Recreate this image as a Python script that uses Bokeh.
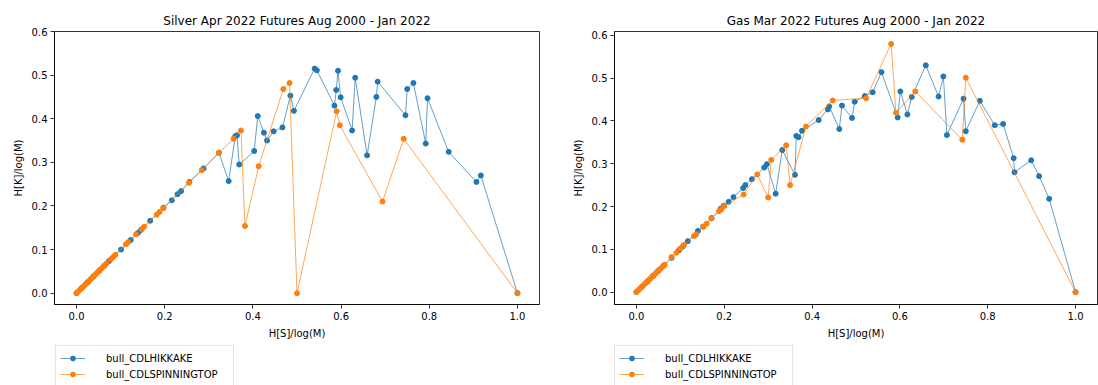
from bokeh.plotting import figure
from bokeh.layouts import row, column
from bokeh.models import Legend, LegendItem, FixedTicker, Range1d, NumeralTickFormatter
from bokeh.embed import file_html
from bokeh.resources import INLINE

FONT = "DejaVu Sans"
BLUE = "#1f77b4"
ORANGE = "#ff7f0e"

titles = ["Silver Apr 2022 Futures Aug 2000 - Jan 2022", "Gas Mar 2022 Futures Aug 2000 - Jan 2022"]
series_names = ["bull_CDLHIKKAKE", "bull_CDLSPINNINGTOP"]
x_ticks = [0.0, 0.2, 0.4, 0.6, 0.8, 1.0]
y_ticks = [0.0, 0.1, 0.2, 0.3, 0.4, 0.5, 0.6]

# Silver - bull_CDLHIKKAKE
silver_hik_x = [0.000, 0.012, 0.025, 0.038, 0.052, 0.063, 0.074, 0.101, 0.123, 0.139, 0.146, 0.167,
                0.197, 0.216, 0.229, 0.237, 0.256, 0.288, 0.323, 0.345, 0.360, 0.364, 0.369, 0.403,
                0.411, 0.425, 0.432, 0.447, 0.467, 0.485, 0.493, 0.540, 0.545, 0.585, 0.589, 0.593,
                0.599, 0.625, 0.632, 0.659, 0.680, 0.683, 0.746, 0.750, 0.764, 0.792, 0.796, 0.844,
                0.907, 0.917, 1.000]
silver_hik_y = [0.000, 0.012, 0.025, 0.038, 0.052, 0.063, 0.074, 0.100, 0.122, 0.138, 0.145, 0.166,
                0.196, 0.213, 0.227, 0.234, 0.255, 0.286, 0.322, 0.257, 0.360, 0.362, 0.295, 0.326,
                0.406, 0.368, 0.350, 0.371, 0.380, 0.453, 0.418, 0.515, 0.511, 0.430, 0.466, 0.510,
                0.449, 0.373, 0.494, 0.316, 0.450, 0.485, 0.408, 0.468, 0.482, 0.343, 0.447, 0.324,
                0.255, 0.270, 0.000]

# Silver - bull_CDLSPINNINGTOP
silver_spin_x = [0.000, 0.004, 0.008, 0.012, 0.016, 0.020, 0.024, 0.028, 0.032, 0.036, 0.040, 0.044,
                 0.048, 0.052, 0.056, 0.060, 0.064, 0.068, 0.078, 0.083, 0.088, 0.112, 0.117, 0.135,
                 0.148, 0.153, 0.182, 0.188, 0.197, 0.255, 0.284, 0.323, 0.356, 0.373, 0.382, 0.413,
                 0.469, 0.483, 0.500, 0.590, 0.597, 0.694, 0.742, 1.000]
silver_spin_y = [0.000, 0.004, 0.008, 0.012, 0.016, 0.020, 0.024, 0.028, 0.032, 0.036, 0.040, 0.044,
                 0.048, 0.052, 0.056, 0.060, 0.064, 0.068, 0.078, 0.083, 0.088, 0.112, 0.117, 0.135,
                 0.147, 0.152, 0.180, 0.186, 0.195, 0.253, 0.282, 0.322, 0.354, 0.373, 0.154, 0.291,
                 0.468, 0.482, 0.000, 0.417, 0.385, 0.210, 0.354, 0.000]

# Gas - bull_CDLHIKKAKE
gas_hik_x = [0.000, 0.012, 0.025, 0.038, 0.050, 0.062, 0.080, 0.097, 0.106, 0.117, 0.140, 0.152,
             0.171, 0.192, 0.199, 0.210, 0.221, 0.243, 0.248, 0.263, 0.291, 0.297, 0.317, 0.332,
             0.361, 0.364, 0.369, 0.377, 0.415, 0.436, 0.439, 0.462, 0.468, 0.491, 0.497, 0.520,
             0.538, 0.558, 0.595, 0.601, 0.617, 0.627, 0.659, 0.688, 0.699, 0.707, 0.745, 0.750,
             0.782, 0.816, 0.835, 0.859, 0.861, 0.899, 0.917, 0.940, 1.000]
gas_hik_y = [0.000, 0.012, 0.025, 0.038, 0.050, 0.062, 0.080, 0.098, 0.107, 0.119, 0.143, 0.153,
             0.173, 0.195, 0.202, 0.211, 0.222, 0.243, 0.250, 0.264, 0.291, 0.299, 0.230, 0.332,
             0.274, 0.365, 0.362, 0.377, 0.402, 0.427, 0.434, 0.381, 0.436, 0.407, 0.445, 0.458,
             0.467, 0.514, 0.408, 0.469, 0.415, 0.456, 0.530, 0.457, 0.504, 0.367, 0.452, 0.376,
             0.447, 0.390, 0.393, 0.313, 0.280, 0.308, 0.271, 0.218, 0.000]

# Gas - bull_CDLSPINNINGTOP
gas_spin_x = [0.000, 0.004, 0.008, 0.012, 0.016, 0.020, 0.024, 0.028, 0.032, 0.036, 0.040, 0.044,
              0.048, 0.052, 0.056, 0.060, 0.064, 0.080, 0.091, 0.100, 0.108, 0.131, 0.136, 0.153,
              0.160, 0.171, 0.188, 0.193, 0.200, 0.244, 0.275, 0.300, 0.307, 0.341, 0.350, 0.386,
              0.447, 0.523, 0.580, 0.591, 0.635, 0.742, 0.750, 1.000]
gas_spin_y = [0.000, 0.004, 0.008, 0.012, 0.016, 0.020, 0.024, 0.028, 0.032, 0.036, 0.040, 0.044,
              0.048, 0.052, 0.056, 0.060, 0.064, 0.082, 0.092, 0.102, 0.110, 0.131, 0.135, 0.153,
              0.160, 0.172, 0.189, 0.193, 0.201, 0.228, 0.275, 0.221, 0.309, 0.343, 0.250, 0.387,
              0.448, 0.453, 0.580, 0.419, 0.469, 0.356, 0.501, 0.000]


def make(title, bx, by, ox, oy, yr, border_left, border_right):
    p = figure(width=549, height=345, x_range=Range1d(-0.05, 1.05), y_range=Range1d(*yr),
               output_backend="svg", toolbar_location=None,
               min_border_left=border_left, min_border_right=border_right,
               min_border_top=31, min_border_bottom=41)
    p.title.text = title
    p.title.text_font = FONT
    p.title.text_font_size = "12px"
    p.title.text_font_style = "normal"
    p.title.text_color = "black"
    p.title.align = "center"
    p.title.standoff = 7
    p.grid.visible = False
    p.outline_line_color = "black"
    p.outline_line_width = 0.8
    p.outline_line_alpha = 1.0

    for ax in (p.xaxis, p.yaxis):
        ax.minor_tick_line_color = None
        ax.major_tick_out = 4
        ax.major_tick_in = 0
        ax.major_tick_line_width = 0.8
        ax.axis_line_width = 0.8
        ax.major_label_text_font = FONT
        ax.major_label_text_font_size = "10px"
        ax.major_label_text_color = "black"
        ax.axis_label_text_font = FONT
        ax.axis_label_text_font_size = "10px"
        ax.axis_label_text_font_style = "normal"
        ax.axis_label_text_color = "black"
        ax.major_label_standoff = 3
        ax.axis_label_standoff = 5
    p.xaxis.ticker = FixedTicker(ticks=x_ticks)
    p.yaxis.ticker = FixedTicker(ticks=y_ticks)
    p.xaxis.formatter = NumeralTickFormatter(format="0.0")
    p.yaxis.formatter = NumeralTickFormatter(format="0.0")
    p.xaxis.axis_label = "H[S]/log(M)"
    p.yaxis.axis_label = "H[K]/log(M)"

    p.line(bx, by, line_color=BLUE, line_width=0.7)
    p.scatter(bx, by, size=5, fill_color=BLUE, line_color=BLUE)
    p.line(ox, oy, line_color=ORANGE, line_width=0.7)
    p.scatter(ox, oy, size=5, fill_color=ORANGE, line_color=ORANGE)
    return p


def make_legend(x_offset, bx, by, ox, oy):
    # legend-only strip: the sample renderers hold the series' first point but lie
    # outside this strip's ranges, so only their legend swatches are seen
    q = figure(width=549, height=40, x_range=Range1d(10, 11), y_range=Range1d(10, 11),
               output_backend="svg", toolbar_location=None,
               x_axis_type=None, y_axis_type=None,
               min_border_left=0, min_border_right=0, min_border_top=0, min_border_bottom=0)
    q.grid.visible = False
    q.outline_line_color = None
    l1 = q.line(bx[:2], by[:2], line_color=BLUE, line_width=0.7)
    s1 = q.scatter(bx[:1], by[:1], size=5, fill_color=BLUE, line_color=BLUE)
    l2 = q.line(ox[:2], oy[:2], line_color=ORANGE, line_width=0.7)
    s2 = q.scatter(ox[:1], oy[:1], size=5, fill_color=ORANGE, line_color=ORANGE)
    legend = Legend(items=[LegendItem(label=series_names[0], renderers=[l1, s1]),
                           LegendItem(label=series_names[1], renderers=[l2, s2])],
                    location=(x_offset, -2), orientation="vertical")
    legend.label_text_font = FONT
    legend.label_text_font_size = "10px"
    legend.label_text_color = "black"
    legend.glyph_width = 25
    legend.glyph_height = 12
    legend.label_height = 16
    legend.label_width = 123
    legend.spacing = 0
    legend.padding = 4
    legend.margin = 0
    legend.label_standoff = 21
    legend.border_line_color = "#cccccc"
    legend.border_line_width = 1
    legend.background_fill_alpha = 0.8
    q.add_layout(legend)
    return q


p1 = make(titles[0], silver_hik_x, silver_hik_y, silver_spin_x, silver_spin_y, (-0.026, 0.6), 54, 10)
p2 = make(titles[1], gas_hik_x, gas_hik_y, gas_spin_x, gas_spin_y, (-0.029, 0.609), 65, 1)
q1 = make_legend(55, silver_hik_x, silver_hik_y, silver_spin_x, silver_spin_y)
q2 = make_legend(65, gas_hik_x, gas_hik_y, gas_spin_x, gas_spin_y)

layout = column(row(p1, p2, spacing=0), row(q1, q2, spacing=0), spacing=0)
open("out.html", "w").write(file_html(layout, INLINE))
